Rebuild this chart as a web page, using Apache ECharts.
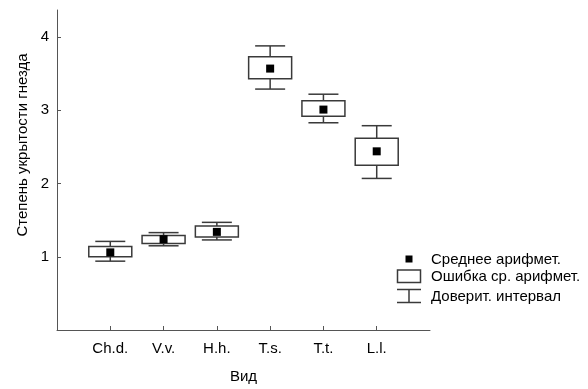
<!DOCTYPE html>
<html>
<head>
<meta charset="utf-8">
<script src="https://cdn.jsdelivr.net/npm/echarts@6/dist/echarts.min.js"></script>
<style>html,body{margin:0;padding:0;background:#fff;}#c{width:588px;height:389px;}</style>
</head>
<body>
<div id="c"></div>
<script>
const categories = ['Ch.d.', 'V.v.', 'H.h.', 'T.s.', 'T.t.', 'L.l.'];
const means  = [1.06, 1.24, 1.34, 3.57, 3.01, 2.44];
const seLow  = [1.00, 1.18, 1.27, 3.43, 2.92, 2.25];
const seHigh = [1.14, 1.29, 1.42, 3.73, 3.13, 2.62];
const ciLow  = [0.94, 1.15, 1.23, 3.29, 2.83, 2.07];
const ciHigh = [1.21, 1.33, 1.47, 3.88, 3.22, 2.79];
const yTicks = [1, 2, 3, 4];
const legendNames = ['Среднее арифмет.', 'Ошибка ср. арифмет.', 'Доверит. интервал'];

const FONT = 'Liberation Sans, Arial, sans-serif';
const LINE = '#3a3a3a';
const catPos = categories.map((c, i) => i + 1);

const boxData = categories.map((c, i) => [catPos[i], seLow[i], seHigh[i], ciLow[i], ciHigh[i], means[i]]);

const chart = echarts.init(document.getElementById('c'), null, {renderer: 'canvas'});
chart.setOption({
  animation: false,
  backgroundColor: '#fff',
  grid: {left: 57, right: 158, top: 10, bottom: 55},
  xAxis: {
    type: 'value', min: 0, max: 7, interval: 1,
    name: 'Вид', nameLocation: 'middle', nameGap: 39,
    nameTextStyle: {fontFamily: FONT, fontSize: 15, color: '#000'},
    axisLine: {lineStyle: {color: '#555', width: 1}},
    axisTick: {inside: true, length: 4, lineStyle: {color: '#555'}, customValues: catPos},
    axisLabel: {fontFamily: FONT, fontSize: 15, color: '#000', margin: 11,
      customValues: catPos, formatter: v => categories[Math.round(v) - 1] || ''},
    splitLine: {show: false}
  },
  yAxis: {
    type: 'value', min: 0, max: 4.37, interval: 1,
    axisLine: {show: true, lineStyle: {color: '#555', width: 1}},
    axisTick: {show: true, inside: true, length: 4, lineStyle: {color: '#555'}, customValues: yTicks},
    axisLabel: {fontFamily: FONT, fontSize: 15, color: '#000', margin: 8, customValues: yTicks},
    splitLine: {show: false}
  },
  series: [{
    type: 'custom',
    name: legendNames[1],
    data: boxData,
    encode: {x: 0, y: [1, 2, 3, 4, 5]},
    renderItem: function (params, api) {
      const x = api.value(0);
      const pLo = api.coord([x, api.value(1)]);
      const pHi = api.coord([x, api.value(2)]);
      const cLo = api.coord([x, api.value(3)]);
      const cHi = api.coord([x, api.value(4)]);
      const m = api.coord([x, api.value(5)]);
      const cx = pLo[0];
      const bw = 43, cw = 30, ms = 8;
      const st = {stroke: LINE, lineWidth: 1.5, fill: null};
      return {
        type: 'group',
        children: [
          {type: 'line', shape: {x1: cx, y1: cHi[1], x2: cx, y2: pHi[1]}, style: st},
          {type: 'line', shape: {x1: cx, y1: pLo[1], x2: cx, y2: cLo[1]}, style: st},
          {type: 'line', shape: {x1: cx - cw / 2, y1: cHi[1], x2: cx + cw / 2, y2: cHi[1]}, style: st},
          {type: 'line', shape: {x1: cx - cw / 2, y1: cLo[1], x2: cx + cw / 2, y2: cLo[1]}, style: st},
          {type: 'rect', shape: {x: cx - bw / 2, y: pHi[1], width: bw, height: pLo[1] - pHi[1]}, style: {stroke: LINE, lineWidth: 1.5, fill: '#fff'}},
          {type: 'rect', shape: {x: cx - ms / 2, y: m[1] - ms / 2, width: ms, height: ms}, style: {fill: '#000'}}
        ]
      };
    }
  }],
  graphic: [
    {type: 'text', x: 23, y: 145, rotation: Math.PI / 2,
      style: {text: 'Степень укрытости гнезда', fontFamily: FONT, fontSize: 15, fill: '#000', align: 'center', verticalAlign: 'middle'}},
    {type: 'rect', shape: {x: 405.5, y: 255.5, width: 7, height: 7}, style: {fill: '#000'}},
    {type: 'text', x: 431, y: 259.5, style: {text: legendNames[0], fontFamily: FONT, fontSize: 15, fill: '#000', verticalAlign: 'middle'}},
    {type: 'rect', shape: {x: 397.5, y: 270, width: 23, height: 12.5}, style: {fill: '#fff', stroke: LINE, lineWidth: 1.5}},
    {type: 'text', x: 431, y: 277, style: {text: legendNames[1], fontFamily: FONT, fontSize: 15, fill: '#000', verticalAlign: 'middle'}},
    {type: 'line', shape: {x1: 397, y1: 289.5, x2: 421, y2: 289.5}, style: {stroke: LINE, lineWidth: 1.5}},
    {type: 'line', shape: {x1: 409, y1: 289.5, x2: 409, y2: 302.5}, style: {stroke: LINE, lineWidth: 1.5}},
    {type: 'line', shape: {x1: 397, y1: 302.5, x2: 421, y2: 302.5}, style: {stroke: LINE, lineWidth: 1.5}},
    {type: 'text', x: 431, y: 296.5, style: {text: legendNames[2], fontFamily: FONT, fontSize: 15, fill: '#000', verticalAlign: 'middle'}}
  ]
});
</script>
</body>
</html>
